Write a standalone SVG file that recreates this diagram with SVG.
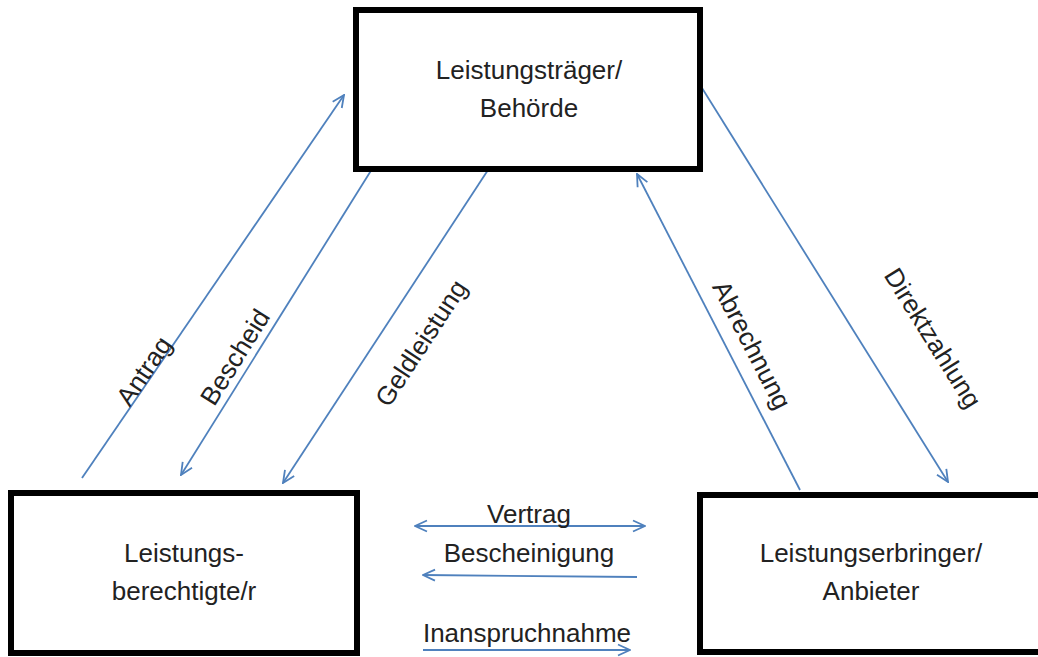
<svg xmlns="http://www.w3.org/2000/svg" width="1038" height="657" viewBox="0 0 1038 657">
<style>
.box{fill:#fff;stroke:#000;stroke-width:6}
.t{font-family:"Liberation Sans",Arial,sans-serif;font-size:26px;fill:#222;text-anchor:middle}
.c{fill:none;stroke:#4f81bd;stroke-width:1.8}
.h{marker-end:url(#ah)}
.d{marker-start:url(#ah);marker-end:url(#ah)}
</style>
<defs>
<marker id="ah" viewBox="0 0 14 14" refX="13" refY="7" markerWidth="14" markerHeight="14" markerUnits="userSpaceOnUse" orient="auto-start-reverse">
<path d="M1,1.5 L13,7 L1,12.5" fill="none" stroke="#4f81bd" stroke-width="1.8"/>
</marker>
</defs>
<rect width="1038" height="657" fill="#fff"/>
<g id="connectors">
<g id="c-antrag"><line class="c h" x1="82" y1="478" x2="344" y2="95"/><text class="t" transform="translate(144,371) rotate(-55.7)" y="9">Antrag</text></g>
<g id="c-bescheid"><line class="c h" x1="372" y1="169" x2="181" y2="475"/><text class="t" transform="translate(235,357) rotate(-58)" y="9">Bescheid</text></g>
<g id="c-geldleistung"><line class="c h" x1="488" y1="170" x2="283" y2="483"/><text class="t" transform="translate(421,343) rotate(-56.8)" y="9">Geldleistung</text></g>
<g id="c-abrechnung"><line class="c h" x1="800" y1="490" x2="637" y2="174"/><text class="t" transform="translate(752,345) rotate(62.7)" y="9">Abrechnung</text></g>
<g id="c-direktzahlung"><line class="c h" x1="702" y1="88" x2="948" y2="482"/><text class="t" transform="translate(933,338) rotate(58)" y="9">Direktzahlung</text></g>
<g id="c-vertrag"><line class="c d" x1="415" y1="526" x2="645" y2="526"/><text class="t" x="529" y="523">Vertrag</text></g>
<g id="c-bescheinigung"><line class="c h" x1="637" y1="577" x2="423" y2="575"/><text class="t" x="529" y="562">Bescheinigung</text></g>
<g id="c-inanspruchnahme"><line class="c h" x1="423" y1="650" x2="630" y2="650"/><text class="t" x="527" y="642">Inanspruchnahme</text></g>
</g>
<g id="node-traeger">
<rect class="box" x="356" y="10" width="344" height="159"/>
<text class="t" x="529" y="79">Leistungsträger/</text>
<text class="t" x="529" y="117">Behörde</text>
</g>
<g id="node-berechtigte">
<rect class="box" x="11" y="493" width="346" height="160"/>
<text class="t" x="184" y="562">Leistungs-</text>
<text class="t" x="184" y="600">berechtigte/r</text>
</g>
<g id="node-erbringer">
<rect class="box" x="700" y="495" width="345" height="157"/>
<text class="t" x="871" y="562">Leistungserbringer/</text>
<text class="t" x="871" y="600">Anbieter</text>
</g>
</svg>
